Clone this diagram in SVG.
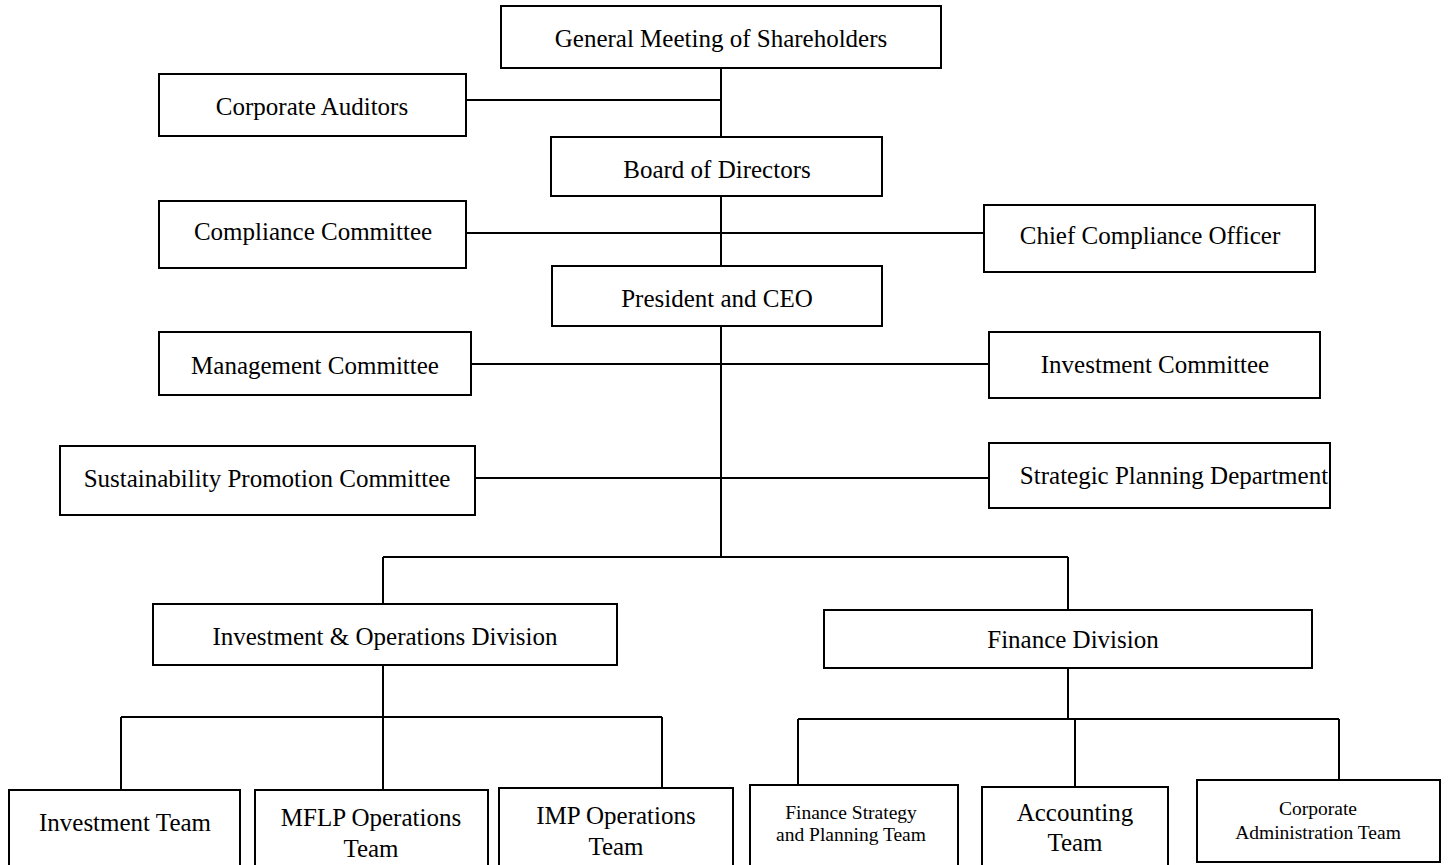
<svg xmlns="http://www.w3.org/2000/svg" width="1448" height="865" viewBox="0 0 1448 865">
<style>
.box{fill:#fff;stroke:#000;stroke-width:2}
.ln{fill:none;stroke:#000;stroke-width:2}
text{font-family:"Liberation Serif","Times New Roman",serif;font-size:25px;fill:#000;text-anchor:middle}
.sm{font-size:19.5px}
</style>
<rect width="1448" height="865" fill="#fff"/>
<g id="connectors">
<path class="ln" d="M721 68V137M466 100H721M721 196V266M466 233H984M721 326V557M471 364H989M475 478H989M383 557H1068M383 557V604M1068 557V610M383 665V717M121 717H662M121 717V790M383 717V790M662 717V788M1068 668V719M798 719H1339M798 719V785M1075 719V787M1339 719V780"/>
</g>
<g id="gms"><rect class="box" x="501" y="6" width="440" height="62"/><text x="721" y="47">General Meeting of Shareholders</text></g>
<g id="auditors"><rect class="box" x="159" y="74" width="307" height="62"/><text x="312" y="115">Corporate Auditors</text></g>
<g id="board"><rect class="box" x="551" y="137" width="331" height="59"/><text x="717" y="178">Board of Directors</text></g>
<g id="compliance"><rect class="box" x="159" y="201" width="307" height="67"/><text x="313" y="240">Compliance Committee</text></g>
<g id="cco"><rect class="box" x="984" y="205" width="331" height="67"/><text x="1150" y="244">Chief Compliance Officer</text></g>
<g id="president"><rect class="box" x="552" y="266" width="330" height="60"/><text x="717" y="307">President and CEO</text></g>
<g id="mgmt"><rect class="box" x="159" y="332" width="312" height="63"/><text x="315" y="374">Management Committee</text></g>
<g id="invcom"><rect class="box" x="989" y="332" width="331" height="66"/><text x="1155" y="373">Investment Committee</text></g>
<g id="sust"><rect class="box" x="60" y="446" width="415" height="69"/><text x="267" y="487">Sustainability Promotion Committee</text></g>
<g id="strat"><rect class="box" x="989" y="443" width="341" height="65"/><text x="1174" y="484">Strategic Planning Department</text></g>
<g id="iod"><rect class="box" x="153" y="604" width="464" height="61"/><text x="385" y="645">Investment &amp; Operations Division</text></g>
<g id="fd"><rect class="box" x="824" y="610" width="488" height="58"/><text x="1073" y="648">Finance Division</text></g>
<g id="invteam"><rect class="box" x="9" y="790" width="231" height="80"/><text x="125" y="831">Investment Team</text></g>
<g id="mflp"><rect class="box" x="255" y="790" width="233" height="80"/><text x="371" y="826">MFLP Operations</text><text x="371" y="857">Team</text></g>
<g id="imp"><rect class="box" x="499" y="788" width="234" height="82"/><text x="616" y="824">IMP Operations</text><text x="616" y="855">Team</text></g>
<g id="fsp"><rect class="box" x="750" y="785" width="208" height="85"/><text class="sm" x="851" y="819">Finance Strategy</text><text class="sm" x="851" y="841">and Planning Team</text></g>
<g id="acct"><rect class="box" x="982" y="787" width="186" height="83"/><text x="1075" y="821">Accounting</text><text x="1075" y="851">Team</text></g>
<g id="cat"><rect class="box" x="1197" y="780" width="243" height="82"/><text class="sm" x="1318" y="815">Corporate</text><text class="sm" x="1318" y="839">Administration Team</text></g>
</svg>
